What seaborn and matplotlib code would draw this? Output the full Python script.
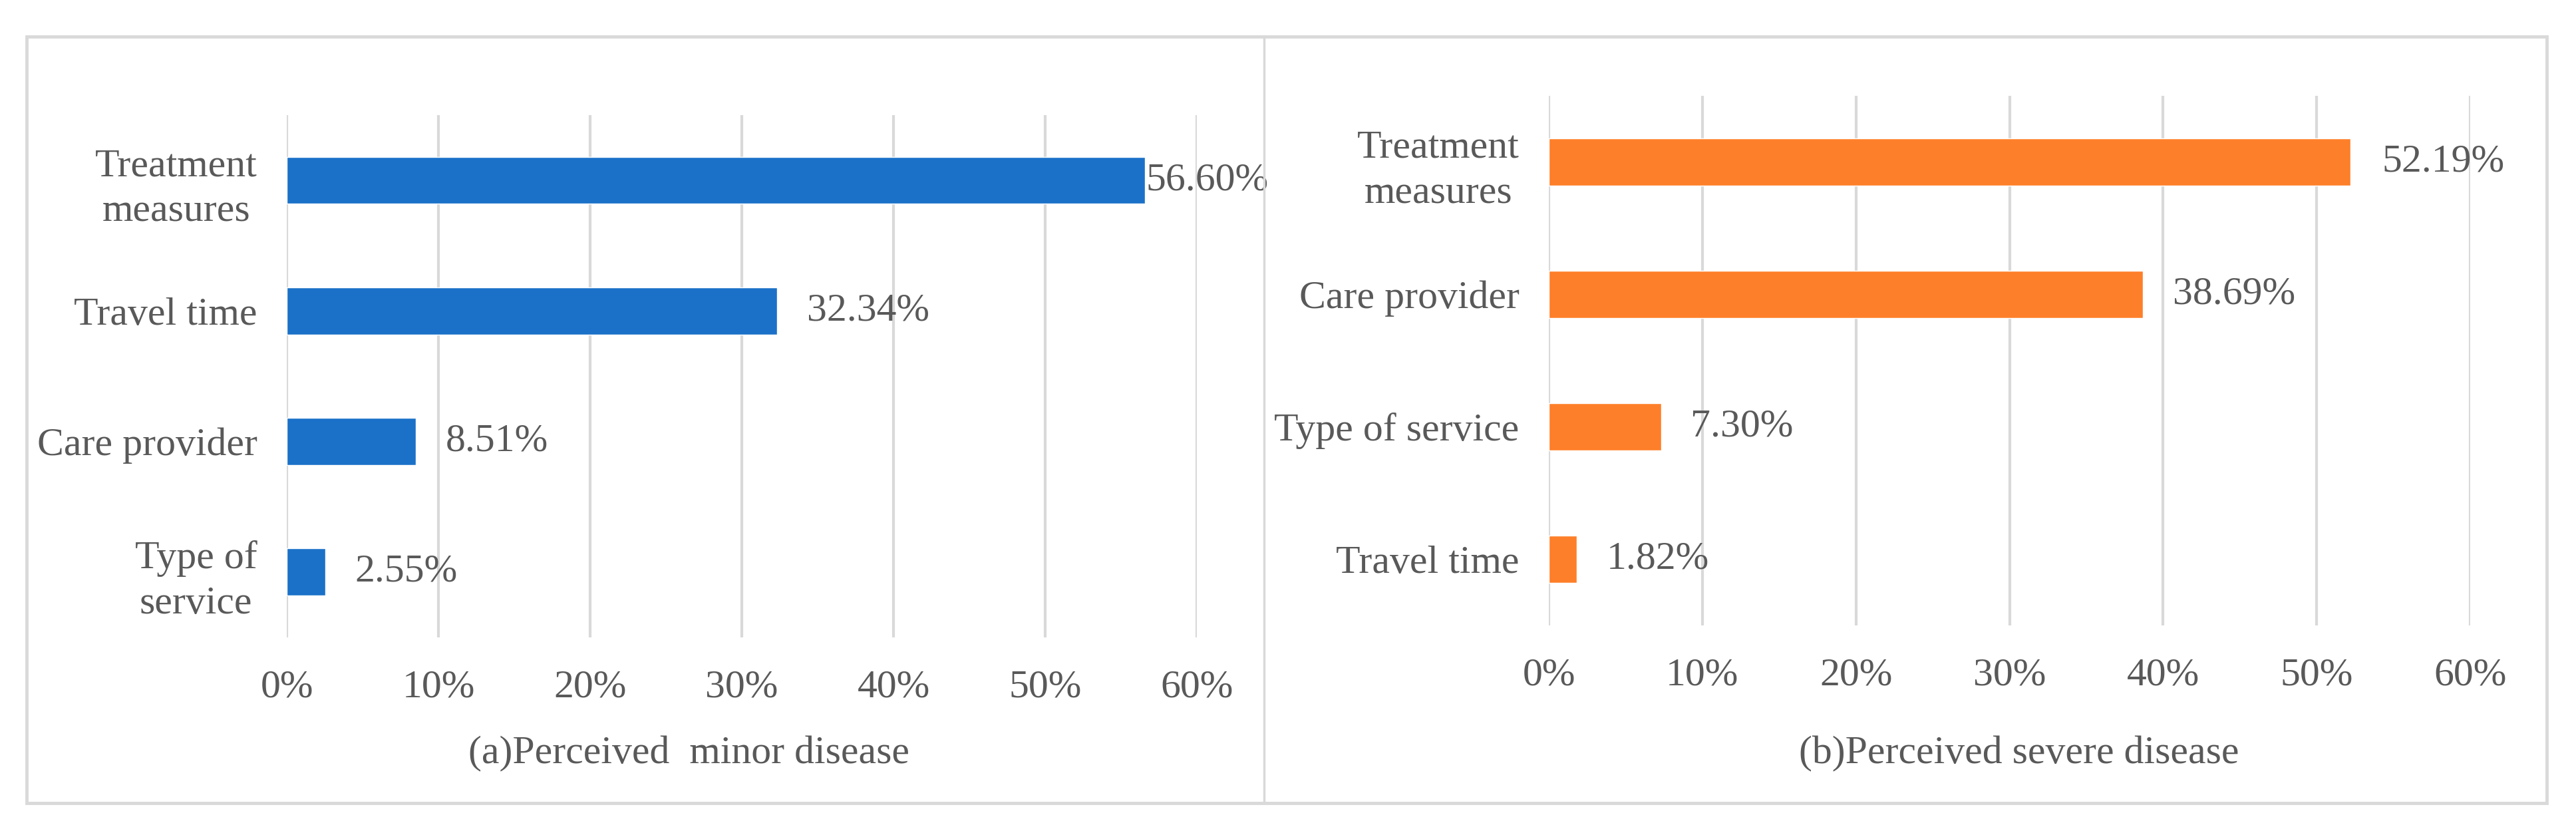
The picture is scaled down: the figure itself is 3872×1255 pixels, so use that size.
import matplotlib.pyplot as plt
import pandas as pd
import seaborn as sns
from matplotlib.lines import Line2D
from matplotlib.patches import Rectangle
from matplotlib.ticker import FuncFormatter

# data
minor_factors = ["Treatment\nmeasures", "Travel time", "Care provider", "Type of\nservice"]
minor_shares = [56.60, 32.34, 8.51, 2.55]
severe_factors = ["Treatment\nmeasures", "Care provider", "Type of service", "Travel time"]
severe_shares = [52.19, 38.69, 7.30, 1.82]
x_ticks = [0, 10, 20, 30, 40, 50, 60]
panel_titles = ["(a)Perceived  minor disease", "(b)Perceived severe disease"]

BLUE = "#1b71c8"
ORANGE = "#fe7f29"
TEXT = "#595959"
GRID = "#d9d9d9"
FS = 43


def draw_panel(ax, factors, shares, color, title, label_pads, label_xy):
  df = pd.DataFrame({"factor": factors, "share": shares})
  sns.barplot(
    data=df, x="share", y="factor", orient="h", color=color,
    saturation=1, width=0.36, ax=ax,
  )
  ax.set_xlim(0, 60)
  ax.set_ylim(len(factors) - 0.5, -0.5)
  ax.set_xticks(x_ticks)
  ax.xaxis.set_major_formatter(FuncFormatter(lambda v, _: f"{v:.0f}%"))
  ax.set_yticks(range(len(factors)))
  ax.set_yticklabels(factors, multialignment="center", linespacing=1.35)
  ax.grid(axis="x", color=GRID, lw=3)
  ax.grid(axis="y", visible=False)
  ax.set_axisbelow(True)
  for spine in ax.spines.values():
    spine.set_visible(False)
  ax.tick_params(axis="both", length=0, labelsize=FS, labelcolor=TEXT)
  ax.tick_params(axis="x", pad=35)
  ax.tick_params(axis="y", pad=32)
  ax.set_ylabel("")

  for bar, share, pad in zip(ax.patches, shares, label_pads):
    ax.annotate(
      f"{share:.2f}%",
      xy=(bar.get_width(), bar.get_y() + bar.get_height() / 2),
      xytext=(pad, 0), textcoords="offset points",
      ha="left", va="center", fontsize=FS, color=TEXT,
    )

  ax.set_xlabel(title, fontsize=FS, color=TEXT)
  ax.xaxis.set_label_coords(*label_xy)
  ax.xaxis.label.set_va("center")


sns.set_theme(style="white")
plt.rcParams["font.family"] = ["Liberation Serif", "DejaVu Serif"]

fig = plt.figure(figsize=(38.73, 12.55), dpi=100)

# outer frame and divider between the two panels
fig.add_artist(Rectangle(
  (0.0103, 0.0382), 0.9781, 0.918, transform=fig.transFigure,
  fill=False, edgecolor=GRID, lw=3.5,
))
fig.add_artist(Line2D(
  [0.4906, 0.4906], [0.0382, 0.9562], transform=fig.transFigure,
  color=GRID, lw=2.5,
))

ax_minor = fig.add_axes([0.1113, 0.2367, 0.3532, 0.6255])
ax_severe = fig.add_axes([0.6011, 0.2510, 0.3576, 0.6343])

draw_panel(ax_minor, minor_factors, minor_shares, BLUE, panel_titles[0],
           [1, 32, 32, 32], (0.4415, -0.223))
draw_panel(ax_severe, severe_factors, severe_shares, ORANGE, panel_titles[1],
           [34, 32, 32, 32], (0.5105, -0.2425))

fig.savefig("out.png", dpi=100, facecolor="white")
plt.close(fig)
